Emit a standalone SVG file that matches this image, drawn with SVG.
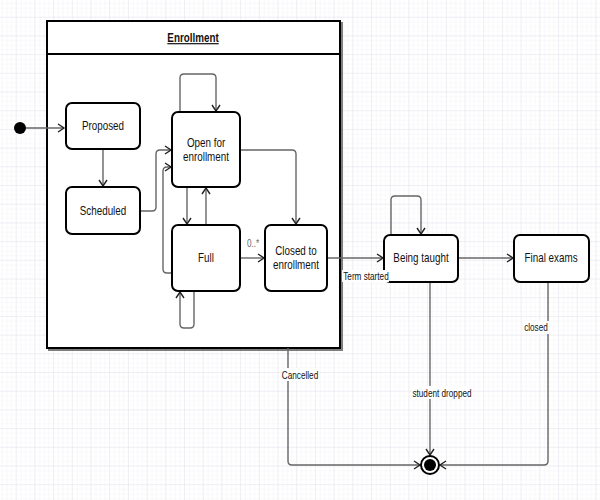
<svg xmlns="http://www.w3.org/2000/svg" width="600" height="500" viewBox="0 0 600 500">
<defs>
<pattern id="minor" width="4.67" height="4.67" patternUnits="userSpaceOnUse">
<path d="M4.67,0 V4.67 M0,4.67 H4.67" fill="none" stroke="#f3f3f8" stroke-width="1"/>
</pattern>
<pattern id="major" x="-2" y="-1" width="18.7" height="18.7" patternUnits="userSpaceOnUse">
<rect width="18.7" height="18.7" fill="url(#minor)"/>
<path d="M18.7,0 V18.7 M0,18.7 H18.7" fill="none" stroke="#e3e3ec" stroke-width="1"/>
</pattern>
<marker id="arr" markerWidth="10" markerHeight="10" refX="8" refY="5" orient="auto" markerUnits="userSpaceOnUse">
<path d="M2,1 L8,5 L2,9" fill="none" stroke="#222" stroke-width="1.4"/>
</marker>
<filter id="sh" x="-5%" y="-5%" width="115%" height="115%">
<feDropShadow dx="2" dy="2" stdDeviation="0.6" flood-color="#000" flood-opacity="0.5"/>
</filter>
</defs>
<style>
.st rect{fill:#fff;stroke:#000;stroke-width:2}
.lbl,.sm{font-family:"Liberation Sans",Arial,sans-serif;fill:#111;text-anchor:middle;transform-box:fill-box;transform-origin:center;transform:scaleX(0.82)}
.lbl{font-size:12px}
.sm{font-size:10px}
.c path{fill:none;stroke:#666;stroke-width:1.4;stroke-linejoin:round}
.c .a{marker-end:url(#arr)}
.bg{fill:#fff}
</style>
<rect width="600" height="500" fill="#fff"/>
<rect width="600" height="500" fill="url(#major)"/>

<g id="enrollment">
<rect x="47" y="21" width="293" height="327" fill="#fff" stroke="#000" stroke-width="2" filter="url(#sh)"/>
<line x1="47" y1="54" x2="340" y2="54" stroke="#000" stroke-width="2"/>
<text x="193" y="42" class="lbl" font-weight="bold" text-decoration="underline">Enrollment</text>
</g>

<g class="c" id="connectors">
<path class="a" d="M26,128 H64"/>
<path class="a" d="M103,149 V186"/>
<path class="a" d="M140,211 H152 Q156,211 156,207 V154 Q156,150 160,150 H171"/>
<path class="a" d="M172,273 H167 Q163,273 163,269 V171 Q163,167 167,167 H171"/>
<path class="a" d="M180,112 V78 Q180,74 184,74 H212 Q216,74 216,78 V111"/>
<path class="a" d="M187,187 V224"/>
<path class="a" d="M206,225 V188"/>
<path class="a" d="M240,150 H292 Q296,150 296,154 V224"/>
<path class="a" d="M240,258 H264"/>
<path class="a" d="M194,291 V324 Q194,328 190,328 H184 Q180,328 180,324 V292"/>
<path class="a" d="M327,258 H383"/>
<path class="a" d="M391,235 V200 Q391,196 395,196 H417 Q421,196 421,200 V234"/>
<path class="a" d="M458,258 H513"/>
<path class="a" d="M430,282 V455"/>
<path class="a" d="M548,282 V461 Q548,465 544,465 H440"/>
<path class="a" d="M288,348 V461 Q288,465 292,465 H420"/>
</g>

<g id="initial"><circle cx="20" cy="128" r="6" fill="#000"/></g>
<g id="final">
<circle cx="430" cy="465" r="9" fill="#fff" stroke="#000" stroke-width="2"/>
<circle cx="430" cy="465" r="6" fill="#000"/>
</g>

<g class="st" id="proposed"><rect x="66" y="103" width="74" height="46" rx="6"/><text x="103" y="130" class="lbl">Proposed</text></g>
<g class="st" id="scheduled"><rect x="66" y="187" width="74" height="47" rx="6"/><text x="103" y="215" class="lbl">Scheduled</text></g>
<g class="st" id="open"><rect x="172" y="112" width="68" height="75" rx="6"/><text x="206" y="147" class="lbl">Open for</text><text x="206" y="161" class="lbl">enrollment</text></g>
<g class="st" id="full"><rect x="172" y="225" width="68" height="66" rx="6"/><text x="206" y="262" class="lbl">Full</text></g>
<g class="st" id="closed"><rect x="265" y="225" width="62" height="66" rx="6"/><text x="296" y="255" class="lbl">Closed to</text><text x="296" y="269" class="lbl">enrollment</text></g>
<g class="st" id="taught"><rect x="384" y="235" width="74" height="47" rx="6"/><text x="421" y="262" class="lbl">Being taught</text></g>
<g class="st" id="exams"><rect x="514" y="235" width="75" height="47" rx="6"/><text x="551" y="262" class="lbl">Final exams</text></g>

<g id="labels">
<text x="253" y="247" class="sm" style="fill:#666">0..*</text>
<rect x="342" y="270" width="47" height="12" class="bg"/>
<text x="366" y="280" class="sm">Term started</text>
<rect x="283" y="368" width="36" height="13" class="bg"/>
<text x="300" y="379" class="sm">Cancelled</text>
<rect x="412" y="386" width="60" height="13" class="bg"/>
<text x="442" y="397" class="sm">student dropped</text>
<rect x="524" y="321" width="25" height="13" class="bg"/>
<text x="536" y="331" class="sm">closed</text>
</g>
</svg>
